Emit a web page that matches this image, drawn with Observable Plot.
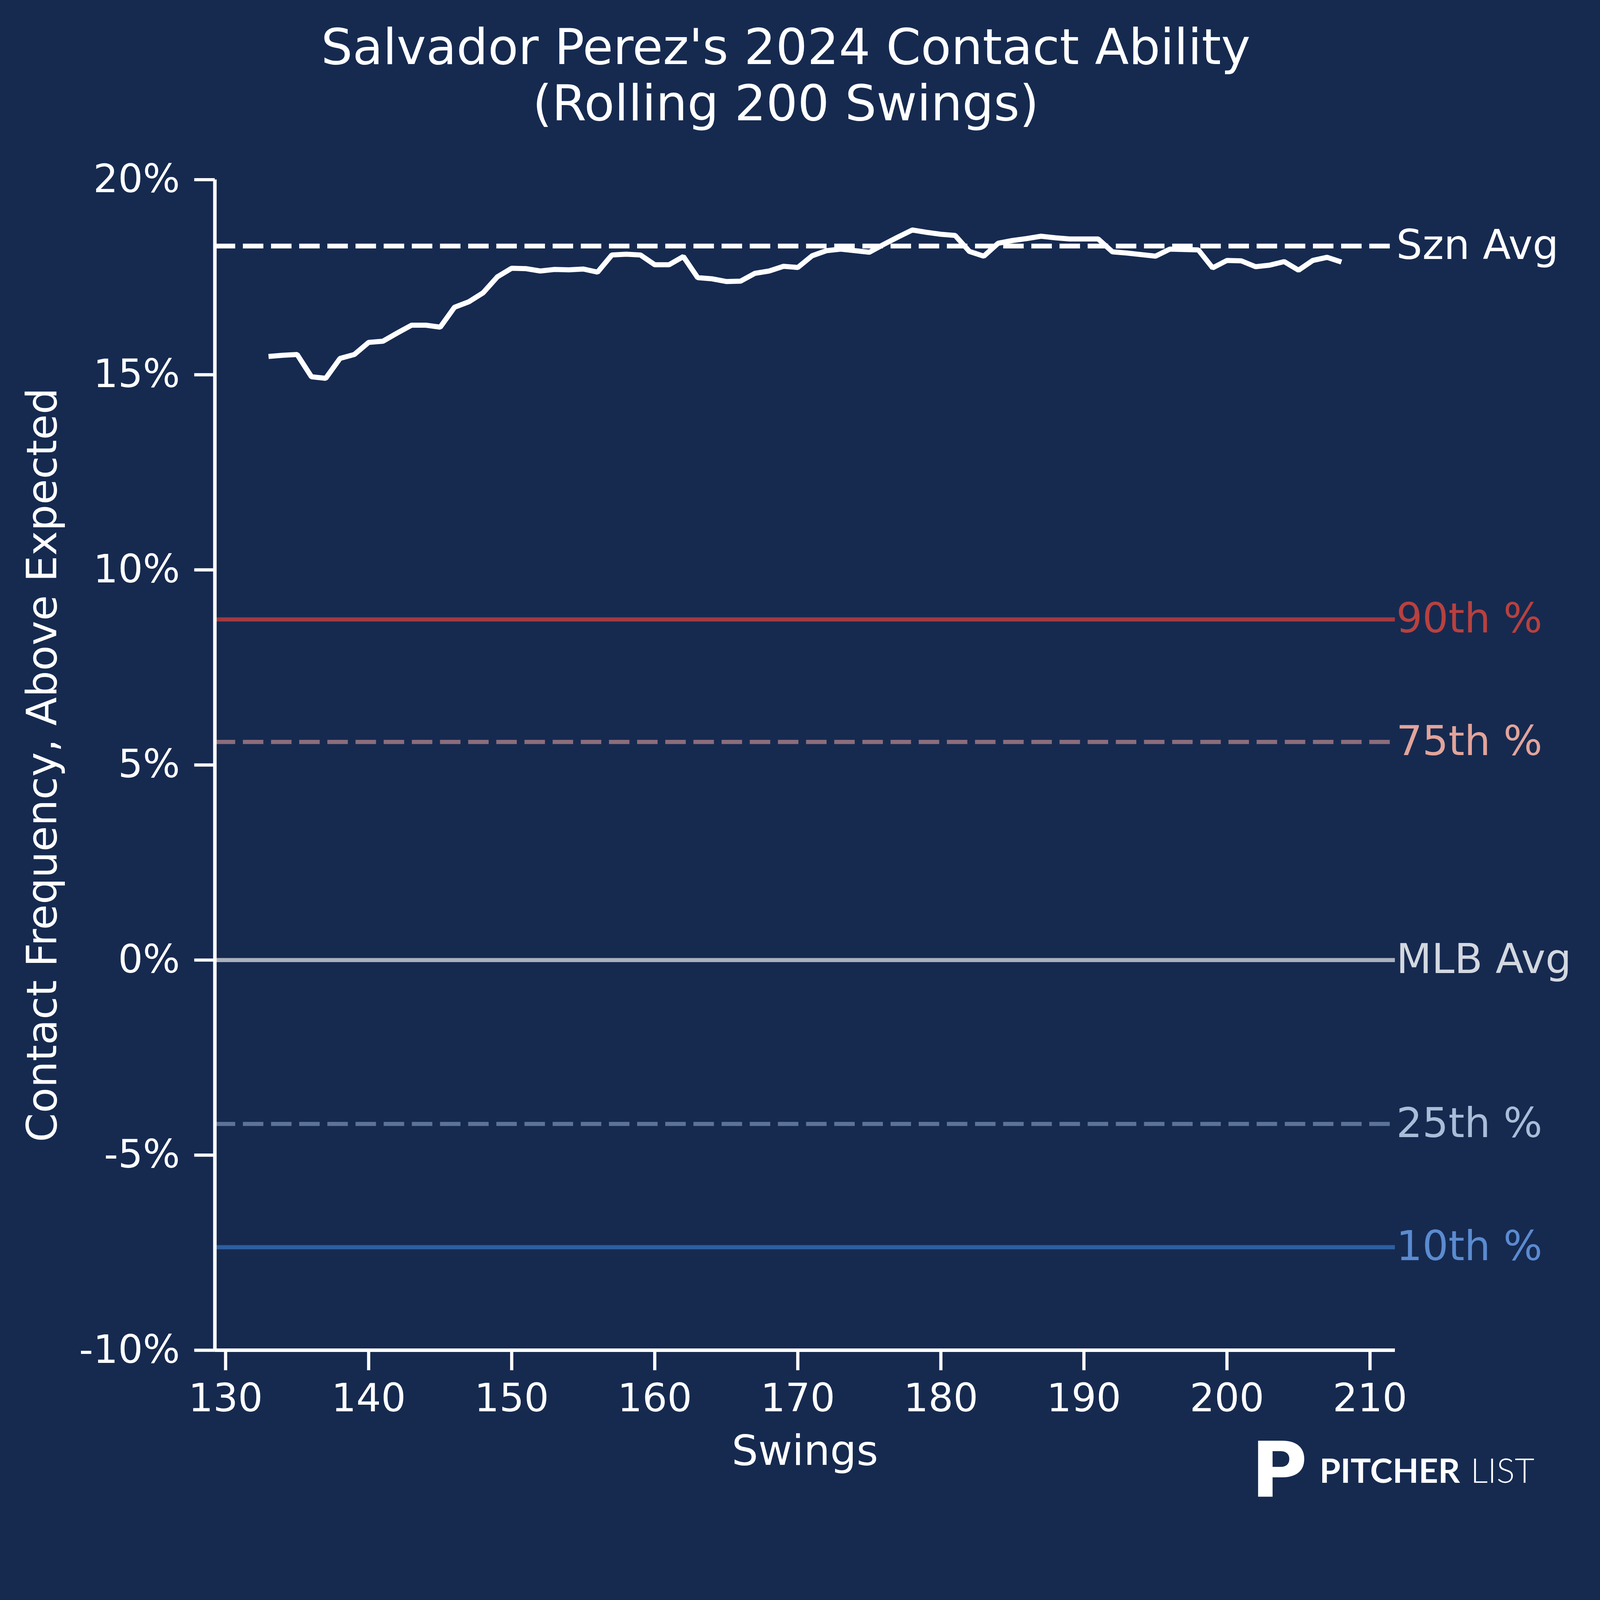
<!DOCTYPE html>
<html>
<head>
<meta charset="utf-8">
<script src="https://cdn.jsdelivr.net/npm/d3@7"></script>
<script src="https://cdn.jsdelivr.net/npm/@observablehq/plot@0.6"></script>
<style>
  html, body { margin: 0; padding: 0; background: #162a50; }
</style>
</head>
<body>
<div id="chart"></div>
<script>
// ---- data ----
const swings = [133,134,135,136,137,138,139,140,141,142,143,144,145,146,147,148,149,150,
  151,152,153,154,155,156,157,158,159,160,161,162,163,164,165,166,167,168,169,170,
  171,172,173,174,175,176,177,178,179,180,181,182,183,184,185,186,187,188,189,190,
  191,192,193,194,195,196,197,198,199,200,201,202,203,204,205,206,207,208];
const contact = [15.47,15.50,15.52,14.95,14.91,15.42,15.52,15.83,15.86,16.07,16.27,16.27,16.22,16.73,16.87,17.10,17.51,17.73,
  17.72,17.66,17.70,17.69,17.71,17.63,18.07,18.09,18.07,17.82,17.82,18.03,17.49,17.46,17.39,17.40,17.60,17.66,17.78,17.75,
  18.05,18.18,18.22,18.18,18.14,18.34,18.53,18.71,18.65,18.60,18.57,18.16,18.04,18.37,18.44,18.49,18.55,18.51,18.48,18.48,
  18.48,18.15,18.12,18.08,18.04,18.22,18.21,18.20,17.74,17.93,17.92,17.77,17.81,17.90,17.68,17.93,18.01,17.89];

const refNames = ["Szn Avg", "90th %", "75th %", "MLB Avg", "25th %", "10th %"];
const refValues = [18.30, 8.73, 5.59, 0, -4.20, -7.36];
const refLineColors = ["#ffffff", "#a23a40", "#8c6d7b", "#aab1bd", "#5c7397", "#2d5fa0"];
const refTextColors = ["#ffffff", "#b8413f", "#e2a49b", "#d3d8e0", "#a9bdd9", "#5b8bd0"];
const refDashed = [true, false, true, false, true, false];

const xTicks = [130, 140, 150, 160, 170, 180, 190, 200, 210];
const yTicks = [-10, -5, 0, 5, 10, 15, 20];
const xDomain = [129.25, 211.75];
const yDomain = [-10, 20];

const titleText = "Salvador Perez's 2024 Contact Ability\n(Rolling 200 Swings)";
const xLabel = "Swings";
const yLabel = "Contact Frequency, Above Expected";

// ---- build ----
const series = swings.map((s, i) => ({swing: s, value: contact[i]}));
const refs = refNames.map((n, i) => ({name: n, value: refValues[i], line: refLineColors[i], text: refTextColors[i], dashed: refDashed[i]}));

const refMarks = refs.flatMap((r, i) => [
  Plot.ruleY([r.value], {
    stroke: r.line,
    strokeWidth: i === 0 ? 15 : 13,
    strokeDasharray: r.dashed ? "64,24" : null
  }),
  Plot.text([r.name], {
    x: () => xDomain[1], y: () => r.value,
    text: d => d,
    textAnchor: "start", lineAnchor: "middle", dx: 4,
    fill: r.text, fontSize: 128
  })
]);

const chart = Plot.plot({
  width: 5000,
  height: 4869,
  marginLeft: 671,
  marginRight: 641,
  marginTop: 561,
  marginBottom: 650,
  style: {background: "#162a50", color: "white", fontFamily: "DejaVu Sans", overflow: "visible"},
  x: {domain: xDomain},
  y: {domain: yDomain},
  marks: [
    ...refMarks,
    Plot.lineY(series, {x: "swing", y: "value", stroke: "white", strokeWidth: 16, strokeLinejoin: "miter", strokeLinecap: "butt"}),
    Plot.ruleX([xDomain[0]], {stroke: "white", strokeWidth: 11}),
    Plot.ruleY([yDomain[0]], {stroke: "white", strokeWidth: 11}),
    Plot.axisX({ticks: xTicks, tickSize: 63, tickPadding: 41, strokeWidth: 10, fontSize: 122, fill: "white", stroke: "white", label: null, tickFormat: d => String(d)}),
    Plot.axisY({ticks: yTicks, tickSize: 64, tickPadding: 45, strokeWidth: 10, fontSize: 122, fill: "white", stroke: "white", label: null, tickFormat: d => `${d}%`}),
    Plot.text([titleText], {frameAnchor: "top", lineAnchor: "bottom", dy: -186, dx: -60, fontSize: 155, lineHeight: 1.13, fill: "white"}),
    Plot.text([xLabel], {frameAnchor: "bottom", lineAnchor: "bottom", dy: 358, fontSize: 130, fill: "white"}),
    Plot.text([yLabel], {frameAnchor: "left", rotate: -90, textAnchor: "middle", lineAnchor: "middle", dx: -537, fontSize: 130, fill: "white"}),
    // logo
    Plot.text(["P"], {frameAnchor: "bottom-right", textAnchor: "start", lineAnchor: "bottom", dx: -450, dy: 458, fontSize: 240, fontWeight: "bold", fontFamily: "DejaVu Sans", fill: "white"}),
    Plot.text(["PITCHER"], {frameAnchor: "bottom-right", textAnchor: "start", lineAnchor: "bottom", dx: -236, dy: 414, fontSize: 106, fontWeight: "bold", fontFamily: "Lato", fill: "white"}),
    Plot.text(["LIST"], {frameAnchor: "bottom-right", textAnchor: "start", lineAnchor: "bottom", dx: 236, dy: 414, fontSize: 106, fontWeight: 300, fontFamily: "Lato", fill: "white"})
  ]
});
document.getElementById("chart").appendChild(chart);
</script>
</body>
</html>
